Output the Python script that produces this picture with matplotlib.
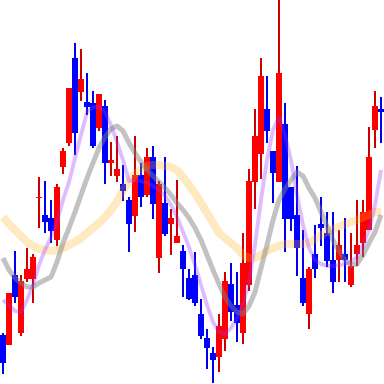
import matplotlib
matplotlib.use("Agg")
import matplotlib.pyplot as plt
import numpy as np

# OHLC values (price units)
opens  = [49, 39, 109, 51, 105, 105, 186, 169, 166, 144, 217, 241, 326, 292, 282, 281,
          256, 278, 221, 208, 200, 184, 168, 209, 189, 227, 126, 181, 160, 141, 133, 106,
          109, 70, 46, 31, 27, 45, 100, 79, 51, 99, 202, 230, 275, 233, 202, 260,
          197, 169, 106, 70, 130, 160, 151, 124, 124, 130, 99, 130, 141, 154, 254, 275]
highs  = [51, 91, 133, 109, 136, 130, 207, 203, 184, 200, 236, 296, 341, 335, 311, 293,
          290, 284, 242, 248, 219, 187, 248, 221, 236, 238, 203, 227, 175, 204, 139, 115,
          132, 85, 55, 37, 70, 112, 121, 112, 151, 215, 275, 326, 308, 233, 392, 281,
          197, 218, 154, 117, 159, 187, 172, 172, 154, 166, 151, 184, 184, 257, 293, 287]
lows   = [10, 39, 81, 48, 102, 81, 156, 151, 141, 138, 210, 238, 229, 283, 269, 236,
          253, 200, 208, 202, 183, 132, 152, 177, 187, 165, 111, 148, 129, 141, 87, 84,
          78, 45, 15, 1, 12, 33, 63, 42, 40, 93, 175, 205, 241, 181, 202, 132,
          153, 108, 78, 55, 106, 138, 117, 91, 102, 102, 97, 118, 127, 154, 236, 241]
closes = [21, 91, 87, 103, 115, 127, 187, 162, 153, 197, 233, 296, 251, 305, 277, 238,
          290, 221, 224, 215, 193, 160, 209, 187, 227, 180, 200, 150, 166, 148, 115, 85,
          81, 48, 36, 24, 58, 103, 72, 61, 121, 203, 248, 308, 253, 211, 311, 165,
          165, 136, 81, 115, 115, 156, 123, 102, 139, 124, 118, 139, 172, 227, 278, 272]

# Moving average lines
ma_short = [84, 79, 73, 72, 84, 99, 119, 134, 147, 162, 184, 202, 226, 249, 272, 277,
            277, 272, 259, 242, 224, 203, 204, 203, 201, 198, 194, 188, 179, 167, 152, 137,
            119, 99, 79, 62, 52, 50, 56, 66, 79, 104, 139, 184, 224, 254, 267, 249,
            224, 189, 159, 136, 124, 120, 118, 118, 119, 120, 122, 127, 139, 154, 179, 214]
ma_mid   = [126, 114, 106, 101, 97, 97, 101, 104, 107, 122, 141, 156, 172, 189, 206, 221,
            236, 247, 255, 258, 253, 241, 231, 222, 214, 208, 202, 196, 189, 181, 174, 166,
            156, 144, 129, 114, 100, 87, 78, 72, 70, 78, 92, 116, 139, 164, 184, 195,
            204, 212, 208, 196, 186, 172, 158, 144, 133, 124, 119, 120, 129, 141, 152, 169]
ma_long  = [167, 160, 154, 148, 142, 138, 135, 134, 133, 134, 136, 139, 142, 146, 151, 156,
            161, 167, 174, 182, 194, 202, 209, 215, 218, 219, 219, 218, 217, 214, 207, 199,
            191, 181, 171, 161, 151, 146, 141, 136, 129, 126, 126, 129, 133, 136, 138, 140,
            140, 140, 140, 141, 145, 149, 152, 155, 157, 160, 162, 164, 167, 169, 172, 172]

o = np.array(opens, float)
h = np.array(highs, float)
l = np.array(lows, float)
c = np.array(closes, float)
x = np.arange(len(o))
up = c >= o

body_col = np.where(up, '#ff0000', '#0000ff')
wick_col = np.where(up, '#cc0000', '#0000ee')
bottom = np.minimum(o, c)
height = np.maximum(np.abs(c - o), 1.5)

fig = plt.figure(figsize=(3.84, 3.84), dpi=100)
ax = fig.add_axes([0, 0, 1, 1])
ax.set_xlim(-0.5, len(o) - 0.5)
ax.set_ylim(0, 384)
ax.axis('off')

ax.vlines(x, l, h, colors=wick_col, linewidth=1.44, antialiased=False, zorder=1)
ax.bar(x, height, bottom=bottom, width=1.0, color=body_col, linewidth=0,
       antialiased=False, zorder=2)

ax.plot(x, ma_long, color='#ffb020', alpha=0.28, lw=5.8, solid_capstyle='butt', zorder=3)
ax.plot(x, ma_mid, color='#808080', alpha=0.48, lw=3.6, solid_capstyle='butt', zorder=4)
ax.plot(x, ma_short, color='#9933ff', alpha=0.32, lw=2.8, solid_capstyle='butt', zorder=5)

fig.savefig('out.png', dpi=100)
